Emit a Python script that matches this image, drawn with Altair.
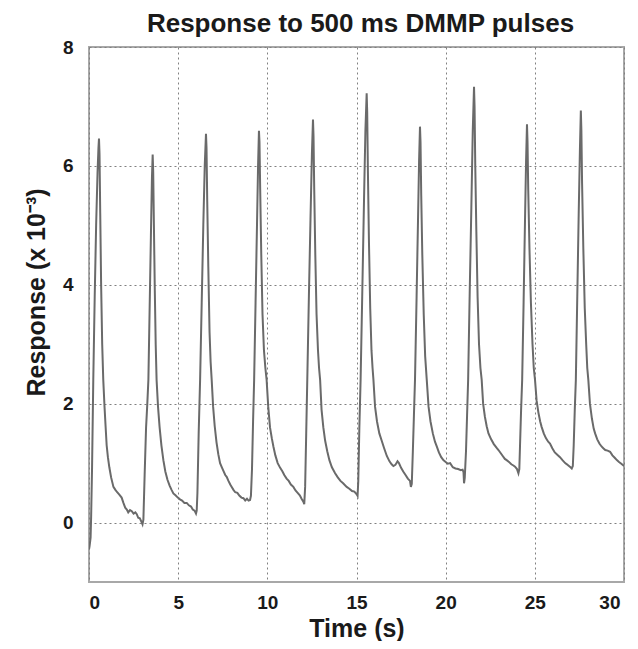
import altair as alt
import pandas as pd

TITLE = "Response to 500 ms DMMP pulses"
X_TITLE = "Time (s)"
Y_TITLE = "Response (x 10⁻³)"
X_TICKS = [0, 5, 10, 15, 20, 25, 30]
Y_TICKS = [0, 2, 4, 6, 8]

# pulse 1
T1 = [0.00, 0.03, 0.06, 0.09, 0.12, 0.17, 0.24, 0.32, 0.40, 0.48, 0.53, 0.56, 0.59, 0.63, 0.68, 0.74, 0.80, 0.87, 0.93, 0.99,
      1.06, 1.14, 1.24, 1.37, 1.48, 1.58, 1.70, 1.83, 1.93, 2.03, 2.12, 2.20, 2.30, 2.40, 2.50, 2.60, 2.68, 2.76, 2.85, 2.93, 3.00]
V1 = [-0.45, -0.40, -0.33, -0.25, 0.10, 0.90, 2.40, 3.80, 5.00, 5.90, 6.30, 6.46, 6.20, 5.20, 4.00, 3.00, 2.40, 1.95, 1.62, 1.30,
      1.10, 0.93, 0.76, 0.60, 0.55, 0.51, 0.47, 0.42, 0.33, 0.25, 0.22, 0.17, 0.21, 0.19, 0.15, 0.17, 0.14, 0.08, 0.07, 0.02, -0.03]
# pulse 2
T2 = [3.05, 3.12, 3.20, 3.27, 3.33, 3.40, 3.47, 3.53, 3.57, 3.60, 3.64, 3.69, 3.74, 3.79, 3.87, 3.96, 4.06, 4.17, 4.28, 4.40,
      4.52, 4.63, 4.73, 4.85, 4.98, 5.10, 5.22, 5.35, 5.48, 5.60, 5.72, 5.82, 5.92, 6.00, 6.04]
V2 = [0.05, 0.80, 1.60, 2.00, 2.40, 3.60, 4.80, 5.80, 6.19, 5.90, 5.00, 3.90, 3.00, 2.40, 1.95, 1.60, 1.30, 1.05, 0.86, 0.72,
      0.62, 0.55, 0.49, 0.46, 0.42, 0.39, 0.37, 0.33, 0.33, 0.29, 0.27, 0.22, 0.20, 0.15, 0.20]
# pulse 3
T3 = [6.08, 6.15, 6.23, 6.32, 6.41, 6.49, 6.56, 6.59, 6.63, 6.69, 6.76, 6.82, 6.88, 6.96, 7.05, 7.15, 7.25, 7.35, 7.45, 7.55,
      7.64, 7.72, 7.82, 7.92, 8.02, 8.10, 8.20, 8.32, 8.44, 8.55, 8.66, 8.76, 8.86, 8.95, 9.03, 9.08]
V3 = [0.50, 1.50, 2.40, 3.70, 5.00, 6.00, 6.54, 6.30, 5.40, 4.30, 3.20, 2.70, 2.40, 1.95, 1.62, 1.35, 1.15, 1.00, 0.93, 0.86,
      0.80, 0.77, 0.70, 0.64, 0.59, 0.55, 0.51, 0.50, 0.45, 0.42, 0.41, 0.37, 0.40, 0.37, 0.38, 0.45]
# pulse 4
T4 = [9.14, 9.20, 9.26, 9.34, 9.42, 9.48, 9.53, 9.56, 9.60, 9.66, 9.73, 9.81, 9.89, 9.96, 10.05, 10.15, 10.25, 10.34, 10.45,
      10.58, 10.72, 10.85, 10.95, 11.08, 11.20, 11.32, 11.46, 11.58, 11.70, 11.82, 11.92, 12.02, 12.07]
V4 = [0.90, 1.70, 2.40, 3.70, 5.00, 6.00, 6.59, 6.40, 5.60, 4.50, 3.50, 2.90, 2.60, 2.40, 1.95, 1.60, 1.42, 1.28, 1.13,
      1.00, 0.92, 0.86, 0.80, 0.74, 0.70, 0.64, 0.60, 0.54, 0.50, 0.46, 0.40, 0.35, 0.31]
# pulse 5
T5 = [12.12, 12.18, 12.24, 12.33, 12.42, 12.50, 12.56, 12.59, 12.63, 12.69, 12.76, 12.84, 12.90, 12.96, 13.04, 13.14, 13.24,
      13.36, 13.48, 13.62, 13.80, 13.95, 14.10, 14.25, 14.45, 14.60, 14.75, 14.88, 15.00, 15.06]
V5 = [0.60, 1.50, 2.40, 3.80, 5.10, 6.20, 6.78, 6.50, 5.60, 4.50, 3.50, 2.90, 2.60, 2.40, 1.90, 1.60, 1.38,
      1.20, 1.05, 0.93, 0.83, 0.76, 0.70, 0.66, 0.60, 0.57, 0.53, 0.52, 0.48, 0.45]
# pulse 6
T6 = [15.10, 15.16, 15.23, 15.32, 15.42, 15.50, 15.57, 15.60, 15.64, 15.70, 15.77, 15.84, 15.90, 15.95, 16.04, 16.15, 16.28,
      16.41, 16.55, 16.70, 16.85, 16.97, 17.07, 17.18, 17.30, 17.38, 17.50, 17.62, 17.75, 17.88, 18.00, 18.05, 18.10]
V6 = [0.70, 1.60, 2.40, 3.80, 5.40, 6.60, 7.22, 6.90, 5.90, 4.70, 3.60, 2.90, 2.60, 2.40, 1.95, 1.70, 1.50,
      1.38, 1.25, 1.12, 1.03, 0.98, 0.95, 0.97, 1.03, 1.00, 0.92, 0.86, 0.80, 0.74, 0.70, 0.60, 0.65]
# pulse 7
T7 = [18.16, 18.22, 18.28, 18.37, 18.45, 18.51, 18.56, 18.59, 18.63, 18.69, 18.77, 18.85, 18.94, 19.04, 19.15, 19.28, 19.40,
      19.50, 19.62, 19.75, 19.87, 20.00, 20.12, 20.25, 20.40, 20.55, 20.70, 20.85, 20.95, 21.00, 21.03, 21.07]
V7 = [1.20, 1.80, 2.40, 3.80, 5.10, 6.10, 6.66, 6.40, 5.50, 4.50, 3.50, 2.80, 2.40, 1.95, 1.70, 1.50, 1.36,
      1.28, 1.18, 1.10, 1.05, 1.02, 0.99, 1.00, 0.93, 0.91, 0.90, 0.88, 0.89, 0.85, 0.66, 0.75]
# pulse 8
T8 = [21.14, 21.20, 21.26, 21.35, 21.44, 21.52, 21.59, 21.62, 21.66, 21.72, 21.79, 21.87, 21.95, 22.02, 22.10, 22.20, 22.30,
      22.40, 22.55, 22.70, 22.85, 22.96, 23.08, 23.20, 23.32, 23.42, 23.55, 23.68, 23.80, 23.89, 24.00, 24.08, 24.13]
V8 = [1.20, 1.80, 2.40, 3.90, 5.30, 6.60, 7.33, 7.00, 6.00, 4.90, 3.80, 3.00, 2.60, 2.40, 2.00, 1.78, 1.62,
      1.50, 1.40, 1.32, 1.26, 1.22, 1.17, 1.12, 1.07, 1.05, 1.02, 0.98, 0.96, 0.94, 0.90, 0.83, 0.90]
# pulse 9
T9 = [24.17, 24.23, 24.29, 24.37, 24.45, 24.51, 24.56, 24.59, 24.63, 24.70, 24.78, 24.87, 24.94, 25.01, 25.10, 25.20, 25.30,
      25.38, 25.50, 25.62, 25.75, 25.85, 25.98, 26.12, 26.26, 26.41, 26.55, 26.70, 26.80, 26.88, 27.00, 27.07, 27.13]
V9 = [1.30, 1.90, 2.40, 3.70, 5.10, 6.10, 6.70, 6.40, 5.60, 4.60, 3.70, 3.00, 2.60, 2.40, 2.05, 1.85, 1.70,
      1.61, 1.50, 1.42, 1.36, 1.33, 1.25, 1.18, 1.14, 1.10, 1.05, 1.00, 0.98, 0.96, 0.93, 0.91, 0.95]
# pulse 10
T10 = [27.18, 27.24, 27.30, 27.38, 27.46, 27.53, 27.58, 27.61, 27.65, 27.72, 27.80, 27.88, 27.94, 28.00, 28.09, 28.20, 28.30,
       28.38, 28.50, 28.62, 28.74, 28.84, 28.95, 29.08, 29.22, 29.35, 29.48, 29.60, 29.72, 29.85, 29.97, 30.00]
V10 = [1.30, 1.90, 2.40, 3.80, 5.20, 6.30, 6.93, 6.60, 5.70, 4.60, 3.60, 3.00, 2.60, 2.40, 2.00, 1.75, 1.58,
       1.50, 1.40, 1.33, 1.28, 1.25, 1.22, 1.21, 1.19, 1.13, 1.09, 1.05, 1.02, 0.99, 0.96, 0.96]

TIME = T1 + T2 + T3 + T4 + T5 + T6 + T7 + T8 + T9 + T10
RESP = V1 + V2 + V3 + V4 + V5 + V6 + V7 + V8 + V9 + V10

df = pd.DataFrame({"t": TIME, "r": RESP})

FONT = "Liberation Sans"
TXT = "#1a1a1a"

chart = (
    alt.Chart(df)
    .mark_line(color="#6a6a6a", strokeWidth=2, clip=True)
    .encode(
        x=alt.X(
            "t:Q",
            scale=alt.Scale(domain=[0, 30], nice=False, zero=False),
            axis=alt.Axis(
                title=X_TITLE,
                values=X_TICKS,
                grid=True,
                domain=False,
                ticks=False,
                labelPadding=11,
                labelOffset={"condition": {"test": "datum.value === 30", "value": -4}, "value": 0},
                titleY=54,
                titleBaseline="alphabetic",
            ),
        ),
        y=alt.Y(
            "r:Q",
            scale=alt.Scale(domain=[-1, 8], nice=False, zero=False),
            axis=alt.Axis(
                title=Y_TITLE,
                values=Y_TICKS,
                grid=True,
                domain=False,
                ticks=False,
                labelPadding=16,
                titleX=-53,
                titleY=245,
                titleAngle=-90,
                titleAlign="center",
                titleBaseline="middle",
            ),
        ),
    )
    .properties(
        width=535,
        height=535,
        autosize=alt.AutoSizeParams(type="none"),
        padding={"left": 81, "top": 39, "right": 6, "bottom": 59},
        title=alt.TitleParams(
            TITLE,
            font=FONT,
            fontSize=26,
            fontWeight="bold",
            color=TXT,
            anchor="middle",
            offset=1,
            dx=4,
        ),
    )
    .configure(background="white")
    .configure_view(stroke="#a8a8a8", strokeWidth=2)
    .configure_axis(
        labelFont=FONT,
        labelFontSize=19,
        labelFontWeight="bold",
        labelColor=TXT,
        titleFont=FONT,
        titleFontSize=25,
        titleFontWeight="bold",
        titleColor=TXT,
        gridColor="#808080",
        gridDash=[2, 3],
        gridWidth=1,
        gridOpacity=1,
    )
)

chart.save("out.html", embed_options={"renderer": "svg", "actions": False})
